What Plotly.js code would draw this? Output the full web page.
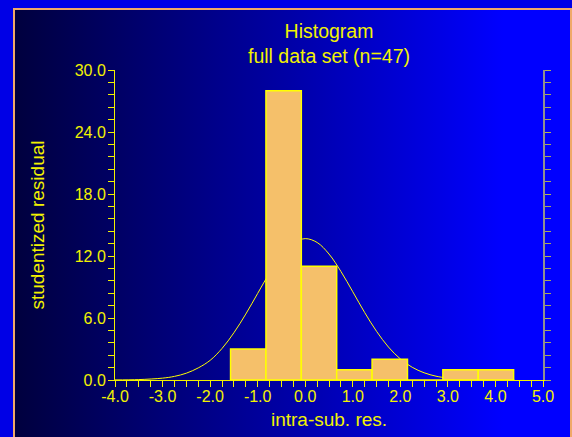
<!DOCTYPE html>
<html>
<head>
<meta charset="utf-8">
<script src="https://cdn.plot.ly/plotly-3.0.1.min.js"></script>
<style>
  html, body { margin: 0; padding: 0; background: #0000E6; }
  #wrap { position: relative; width: 572px; height: 437px; background: #0000E6; overflow: hidden; }
  #panel { position: absolute; left: 13px; top: 8px; width: 555px; height: 440px;
           border: 2px solid #F0A868;
           background: linear-gradient(to right, #00003E 0%, #0000A8 50%, #0000FF 88%, #0000FF 100%); }
  #chart { position: absolute; left: 0; top: 0; width: 572px; height: 437px; }
</style>
</head>
<body>
<div id="wrap">
  <div id="panel"></div>
  <div id="chart"></div>
</div>
<script>
// Histogram bins (edges) and counts
const binEdges = [-1.570, -0.826, -0.082, 0.662, 1.406, 2.150, 2.894, 3.638, 4.382];
const binCounts = [3, 28, 11, 1, 2, 0, 1, 1];

// Fitted normal curve
const curveX = [-4, -3.5, -3, -2.75, -2.5, -2.25, -2, -1.75, -1.5, -1.25, -1, -0.75, -0.5, -0.25, 0,
                0.25, 0.5, 0.75, 1, 1.25, 1.5, 1.75, 2, 2.25, 2.5, 2.75, 3, 3.5, 4, 4.4];
const curveY = [0.01, 0.04, 0.18, 0.35, 0.66, 1.17, 1.9, 3.05, 4.57, 6.38, 8.38, 10.36, 12.07, 13.24, 13.68,
                13.31, 12.19, 10.51, 8.54, 6.53, 4.71, 3.19, 2.04, 1.23, 0.70, 0.37, 0.19, 0.04, 0.01, 0];

// Tick labels
const xTickVals = [-4, -3, -2, -1, 0, 1, 2, 3, 4, 5];
const xTickText = ['-4.0', '-3.0', '-2.0', '-1.0', '0.0', '1.0', '2.0', '3.0', '4.0', '5.0'];
const yTickVals = [0, 6, 12, 18, 24, 30];
const yTickText = ['0.0', '6.0', '12.0', '18.0', '24.0', '30.0'];

const titleText = 'Histogram<br>full data set (n=47)';
const xTitle = 'intra-sub. res.';
const yTitle = 'studentized residual';

const binMid = binCounts.map((_, i) => (binEdges[i] + binEdges[i + 1]) / 2);
const binWid = binCounts.map((_, i) => binEdges[i + 1] - binEdges[i]);

const YEL = '#F2F200';
const FONT = 'Liberation Sans, Arial, Helvetica, sans-serif';

const traces = [
  {
    type: 'scatter', mode: 'lines', x: curveX, y: curveY,
    line: { color: '#FFFF00', width: 1, shape: 'spline' },
    hoverinfo: 'skip', showlegend: false, cliponaxis: true
  },
  {
    type: 'bar', x: binMid, y: binCounts, width: binWid, yaxis: 'y2',
    marker: { color: '#F5C06A', line: { color: '#FFFF00', width: 1.5 } },
    hoverinfo: 'skip', showlegend: false
  }
];

const layout = {
  width: 572, height: 437,
  margin: { l: 115, r: 29, t: 70, b: 57, pad: 0 },
  paper_bgcolor: 'rgba(0,0,0,0)',
  plot_bgcolor: 'rgba(0,0,0,0)',
  showlegend: false,
  bargap: 0,
  title: {
    text: titleText,
    font: { family: FONT, size: 19.5, color: YEL },
    x: 0.5, xref: 'paper', xanchor: 'center',
    y: 1 - 38 / 437, yref: 'container', yanchor: 'top'
  },
  xaxis: {
    range: [-4, 5], tickmode: 'array', tickvals: xTickVals, ticktext: xTickText,
    ticks: 'outside', ticklen: 6, tickwidth: 1, tickcolor: YEL,
    showline: true, linecolor: YEL, linewidth: 1,
    showgrid: false, zeroline: false, automargin: false,
    ticklabelstandoff: -4,
    tickfont: { family: FONT, size: 16, color: YEL },
    minor: { tickmode: 'linear', tick0: -4, dtick: 0.25, ticks: 'outside', ticklen: 6, tickcolor: YEL, showgrid: false },
    title: { text: xTitle, font: { family: FONT, size: 19, color: YEL }, standoff: 8 },
    fixedrange: true
  },
  yaxis: {
    range: [0, 30], tickmode: 'array', tickvals: yTickVals, ticktext: yTickText,
    ticks: 'outside', ticklen: 6, tickwidth: 1, tickcolor: YEL,
    showline: true, linecolor: YEL, linewidth: 1,
    showgrid: false, zeroline: false, automargin: false,
    ticklabelstandoff: -1,
    tickfont: { family: FONT, size: 16, color: YEL },
    minor: { tickmode: 'linear', tick0: 0, dtick: 1.2, ticks: 'outside', ticklen: 6, tickcolor: YEL, showgrid: false },
    title: { text: yTitle, font: { family: FONT, size: 19, color: YEL }, standoff: 25 },
    fixedrange: true
  },
  yaxis2: {
    overlaying: 'y', side: 'right', anchor: 'x',
    range: [0, 30], tickmode: 'array', tickvals: yTickVals, showticklabels: false,
    ticks: 'outside', ticklen: 6, tickwidth: 1, tickcolor: '#B4B45A',
    showline: true, linecolor: '#909090', linewidth: 1.5,
    showgrid: false, zeroline: false, automargin: false,
    minor: { tickmode: 'linear', tick0: 0, dtick: 1.2, ticks: 'outside', ticklen: 6, tickcolor: '#A8A860', showgrid: false },
    fixedrange: true
  }
};

Plotly.newPlot('chart', traces, layout, { staticPlot: true, displayModeBar: false });
</script>
</body>
</html>
